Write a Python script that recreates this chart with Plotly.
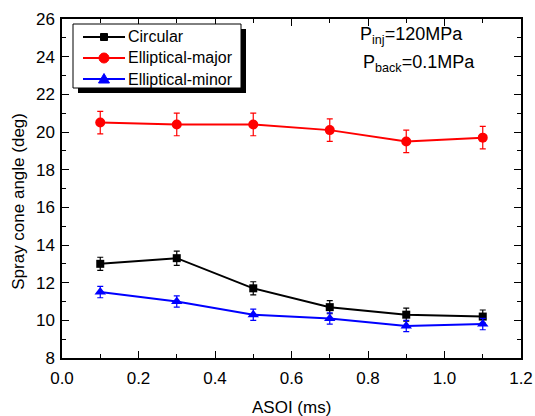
import plotly.graph_objects as go

# ASOI (ms) and measured spray cone angles (deg) with error bars
asoi = [0.1, 0.3, 0.5, 0.7, 0.9, 1.1]

circular = [13.0, 13.3, 11.7, 10.7, 10.3, 10.2]
circular_err = [0.35, 0.38, 0.35, 0.35, 0.35, 0.35]

ellip_major = [20.5, 20.4, 20.4, 20.1, 19.5, 19.7]
ellip_major_err = [0.6, 0.6, 0.6, 0.6, 0.6, 0.6]

ellip_minor = [11.5, 11.0, 10.3, 10.1, 9.7, 9.8]
ellip_minor_err = [0.3, 0.3, 0.3, 0.3, 0.3, 0.3]

series_names = ["Circular", "Elliptical-major", "Elliptical-minor"]

FONT = "Arial, Liberation Sans, sans-serif"
W, H = 535, 416
ML, MR, MT, MB = 62, 14, 19, 58
PW, PH = W - ML - MR, H - MT - MB


def px(x):
    """page pixel x -> paper fraction"""
    return (x - ML) / PW


def py(y):
    """page pixel y -> paper fraction"""
    return (H - MB - y) / PH


fig = go.Figure()

styles = [
    ("black", "square", 8),
    ("red", "circle", 10),
    ("blue", "triangle-up", 10),
]
data = [
    (circular, circular_err),
    (ellip_major, ellip_major_err),
    (ellip_minor, ellip_minor_err),
]
for name, (vals, errs), (color, symbol, msize) in zip(series_names, data, styles):
    fig.add_trace(go.Scatter(
        x=asoi, y=vals, name=name, mode="lines+markers", showlegend=False,
        line=dict(color=color, width=2),
        marker=dict(color=color, symbol=symbol, size=msize),
        error_y=dict(type="data", array=errs, visible=True,
                     color=color, thickness=1.2, width=3),
    ))

axis_common = dict(
    showgrid=False, zeroline=False, showline=True, linecolor="black",
    linewidth=1.5, mirror="allticks", ticks="inside", ticklen=7,
    tickwidth=1.2, tickcolor="black", automargin=False,
    tickfont=dict(family=FONT, size=17, color="black"),
)

fig.update_xaxes(
    range=[0, 1.2], dtick=0.2, tickformat=".1f", ticklabelstandoff=4,
    minor=dict(dtick=0.1, ticks="inside", ticklen=4, tickcolor="black", tickwidth=1.2),
    **axis_common,
)
fig.update_yaxes(
    range=[8, 26], dtick=2, ticklabelstandoff=2,
    minor=dict(dtick=1, ticks="inside", ticklen=4, tickcolor="black", tickwidth=1.2),
    **axis_common,
)

# legend box with drop shadow
shapes = [
    dict(type="rect", xref="paper", yref="paper",
         x0=px(78), x1=px(246), y0=py(93), y1=py(29),
         fillcolor="black", line=dict(width=0), layer="above"),
    dict(type="rect", xref="paper", yref="paper",
         x0=px(73), x1=px(241), y0=py(88), y1=py(24),
         fillcolor="white", line=dict(color="black", width=1), layer="above"),
]
annotations = []
row_y = [37, 58, 79]
for name, (color, symbol, msize), yy in zip(series_names, styles, row_y):
    shapes.append(dict(type="line", xref="paper", yref="paper",
                       x0=px(83), x1=px(125), y0=py(yy), y1=py(yy),
                       line=dict(color=color, width=2), layer="above"))
    cx = px(104)
    if symbol == "square":
        shapes.append(dict(type="rect", xref="paper", yref="paper",
                           x0=px(100.5), x1=px(107.5), y0=py(yy + 3.5), y1=py(yy - 3.5),
                           fillcolor=color, line=dict(color=color, width=1), layer="above"))
    elif symbol == "circle":
        shapes.append(dict(type="circle", xref="paper", yref="paper",
                           x0=px(99), x1=px(109), y0=py(yy + 5), y1=py(yy - 5),
                           fillcolor=color, line=dict(color=color, width=1), layer="above"))
    else:
        shapes.append(dict(type="path", xref="paper", yref="paper",
                           xsizemode="pixel", ysizemode="pixel",
                           xanchor=cx, yanchor=py(yy),
                           path="M -5.5 -4 L 5.5 -4 L 0 5.5 Z",
                           fillcolor=color, line=dict(color=color, width=1), layer="above"))
    annotations.append(dict(xref="paper", yref="paper", x=px(126), y=py(yy),
                            xanchor="left", yanchor="middle", text=name, showarrow=False,
                            font=dict(family=FONT, size=16, color="black")))

title_font = dict(family=FONT, size=17, color="black")

annotations += [
    dict(xref="paper", yref="paper", x=0.645, y=0.95, xanchor="left", yanchor="middle",
         text="P<sub>inj</sub>=120MPa", showarrow=False,
         font=dict(family=FONT, size=18, color="black")),
    dict(xref="paper", yref="paper", x=0.652, y=0.87, xanchor="left", yanchor="middle",
         text="P<sub>back</sub>=0.1MPa", showarrow=False,
         font=dict(family=FONT, size=18, color="black")),
    dict(xref="paper", yref="paper", x=0.5, y=-0.145, xanchor="center", yanchor="middle",
         text="ASOI (ms)", showarrow=False, font=title_font),
    dict(xref="paper", yref="paper", x=-0.095, y=0.462, xanchor="center", yanchor="middle",
         text="Spray cone angle (deg)", showarrow=False, textangle=-90, font=title_font),
]

fig.update_layout(
    width=W, height=H,
    margin=dict(l=ML, r=MR, t=MT, b=MB),
    paper_bgcolor="white", plot_bgcolor="white",
    showlegend=False,
    shapes=shapes,
    annotations=annotations,
)

fig.write_html("out.html")
